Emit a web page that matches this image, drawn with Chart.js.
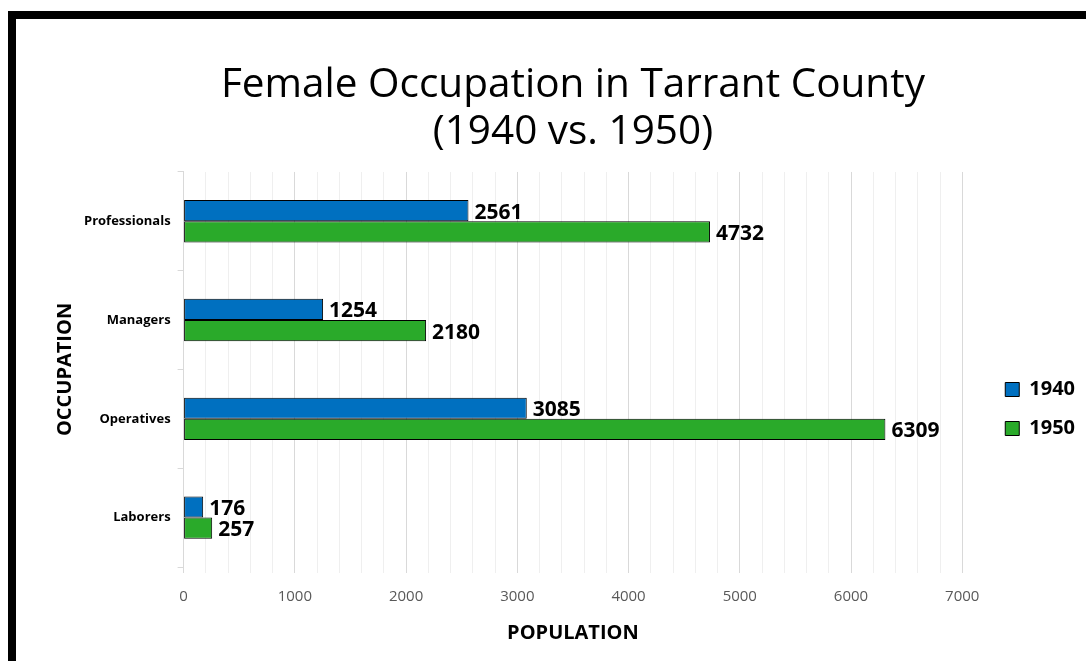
<!DOCTYPE html>
<html>
<head>
<meta charset="utf-8">
<script src="https://cdn.jsdelivr.net/npm/chart.js@4.4.0/dist/chart.umd.min.js"></script>
<style>
  html, body { margin: 0; padding: 0; background: #fff; }
  #frame { position: absolute; left: 8px; top: 11px; width: 1078px; height: 650px;
           border-top: 8px solid #000; border-left: 8px solid #000; box-sizing: border-box; }
  #wrap { position: absolute; left: 0; top: 0; width: 1086px; height: 661px; }
</style>
</head>
<body>
<div id="frame"></div>
<div id="wrap"><canvas id="grafico"></canvas></div>
<script>
// dados
const ocupacoes = ['Professionals', 'Managers', 'Operatives', 'Laborers'];
const anos = ['1940', '1950'];
const valores1940 = [2561, 1254, 3085, 176];
const valores1950 = [4732, 2180, 6309, 257];
const rotulosX = [0, 1000, 2000, 3000, 4000, 5000, 6000, 7000];

const fonte = "'Open Sans', 'DejaVu Sans', sans-serif";

// escreve o valor ao lado de cada barra
const rotulosBarras = {
  id: 'rotulosBarras',
  afterDatasetsDraw(chart) {
    const ctx = chart.ctx;
    ctx.save();
    ctx.font = 'bold 21px ' + fonte;
    ctx.fillStyle = '#000';
    ctx.textBaseline = 'middle';
    ctx.textAlign = 'left';
    chart.data.datasets.forEach((ds, i) => {
      chart.getDatasetMeta(i).data.forEach((barra, j) => {
        ctx.fillText(ds.data[j], barra.x + 6, barra.y + 2);
      });
    });
    ctx.restore();
  }
};

const ctx = document.getElementById('grafico').getContext('2d');
new Chart(ctx, {
  type: 'bar',
  data: {
    labels: ocupacoes,
    datasets: [
      { label: anos[0], data: valores1940, backgroundColor: '#0070C0',
        borderColor: '#000', borderWidth: 1, borderSkipped: false },
      { label: anos[1], data: valores1950, backgroundColor: '#2AAA2A',
        borderColor: '#000', borderWidth: 1, borderSkipped: false }
    ]
  },
  options: {
    indexAxis: 'y',
    responsive: true,
    maintainAspectRatio: false,
    animation: false,
    categoryPercentage: 0.43,
    barPercentage: 1.0,
    layout: { padding: { top: 62, left: 40, right: 1, bottom: 13 } },
    plugins: {
      title: {
        display: true,
        fullSize: false,
        text: ['Female Occupation in Tarrant County', '(1940 vs. 1950)'],
        color: '#000',
        font: { family: fonte, size: 40.5, weight: 'normal', lineHeight: 1.16 },
        padding: { top: 0, bottom: 16 }
      },
      // espaco vazio entre o grafico e a legenda
      subtitle: {
        display: true, position: 'right', text: ' ',
        font: { size: 10, lineHeight: 1.2 }, padding: { top: 6, bottom: 6 }
      },
      legend: {
        position: 'right',
        weight: 1600,
        title: { display: true, text: ' ', font: { size: 10, lineHeight: 1.2 }, padding: { top: 0, bottom: 96 } },
        labels: {
          color: '#000',
          font: { family: fonte, size: 20, weight: 'bold' },
          boxWidth: 14, boxHeight: 14, padding: 19
        }
      },
      tooltip: { enabled: false }
    },
    scales: {
      x: {
        min: 0, max: 7000,
        ticks: {
          stepSize: 200, autoSkip: false, maxRotation: 0, minRotation: 0,
          padding: 15,
          color: '#595959', font: { family: fonte, size: 15 },
          callback: v => (rotulosX.includes(v) ? v : '')
        },
        grid: {
          color: c => (c.tick && c.tick.value % 1000 === 0 ? '#d9d9d9' : '#efefef'),
          tickLength: 6
        },
        border: { display: false },
        title: {
          display: true, text: 'POPULATION', color: '#000',
          font: { family: fonte, size: 20, weight: 'bold' }, padding: { top: 0, bottom: 3 }
        }
      },
      y: {
        ticks: { color: '#000', font: { family: fonte, size: 13, weight: 'bold' }, padding: 7 },
        grid: { offset: true, drawOnChartArea: false, color: '#d9d9d9', tickLength: 6 },
        border: { display: true, color: '#d9d9d9' },
        title: {
          display: true, text: 'OCCUPATION', color: '#000',
          font: { family: fonte, size: 20, weight: 'bold' }, padding: { top: 13, bottom: 0 }
        }
      }
    }
  },
  plugins: [rotulosBarras]
});
</script>
</body>
</html>
